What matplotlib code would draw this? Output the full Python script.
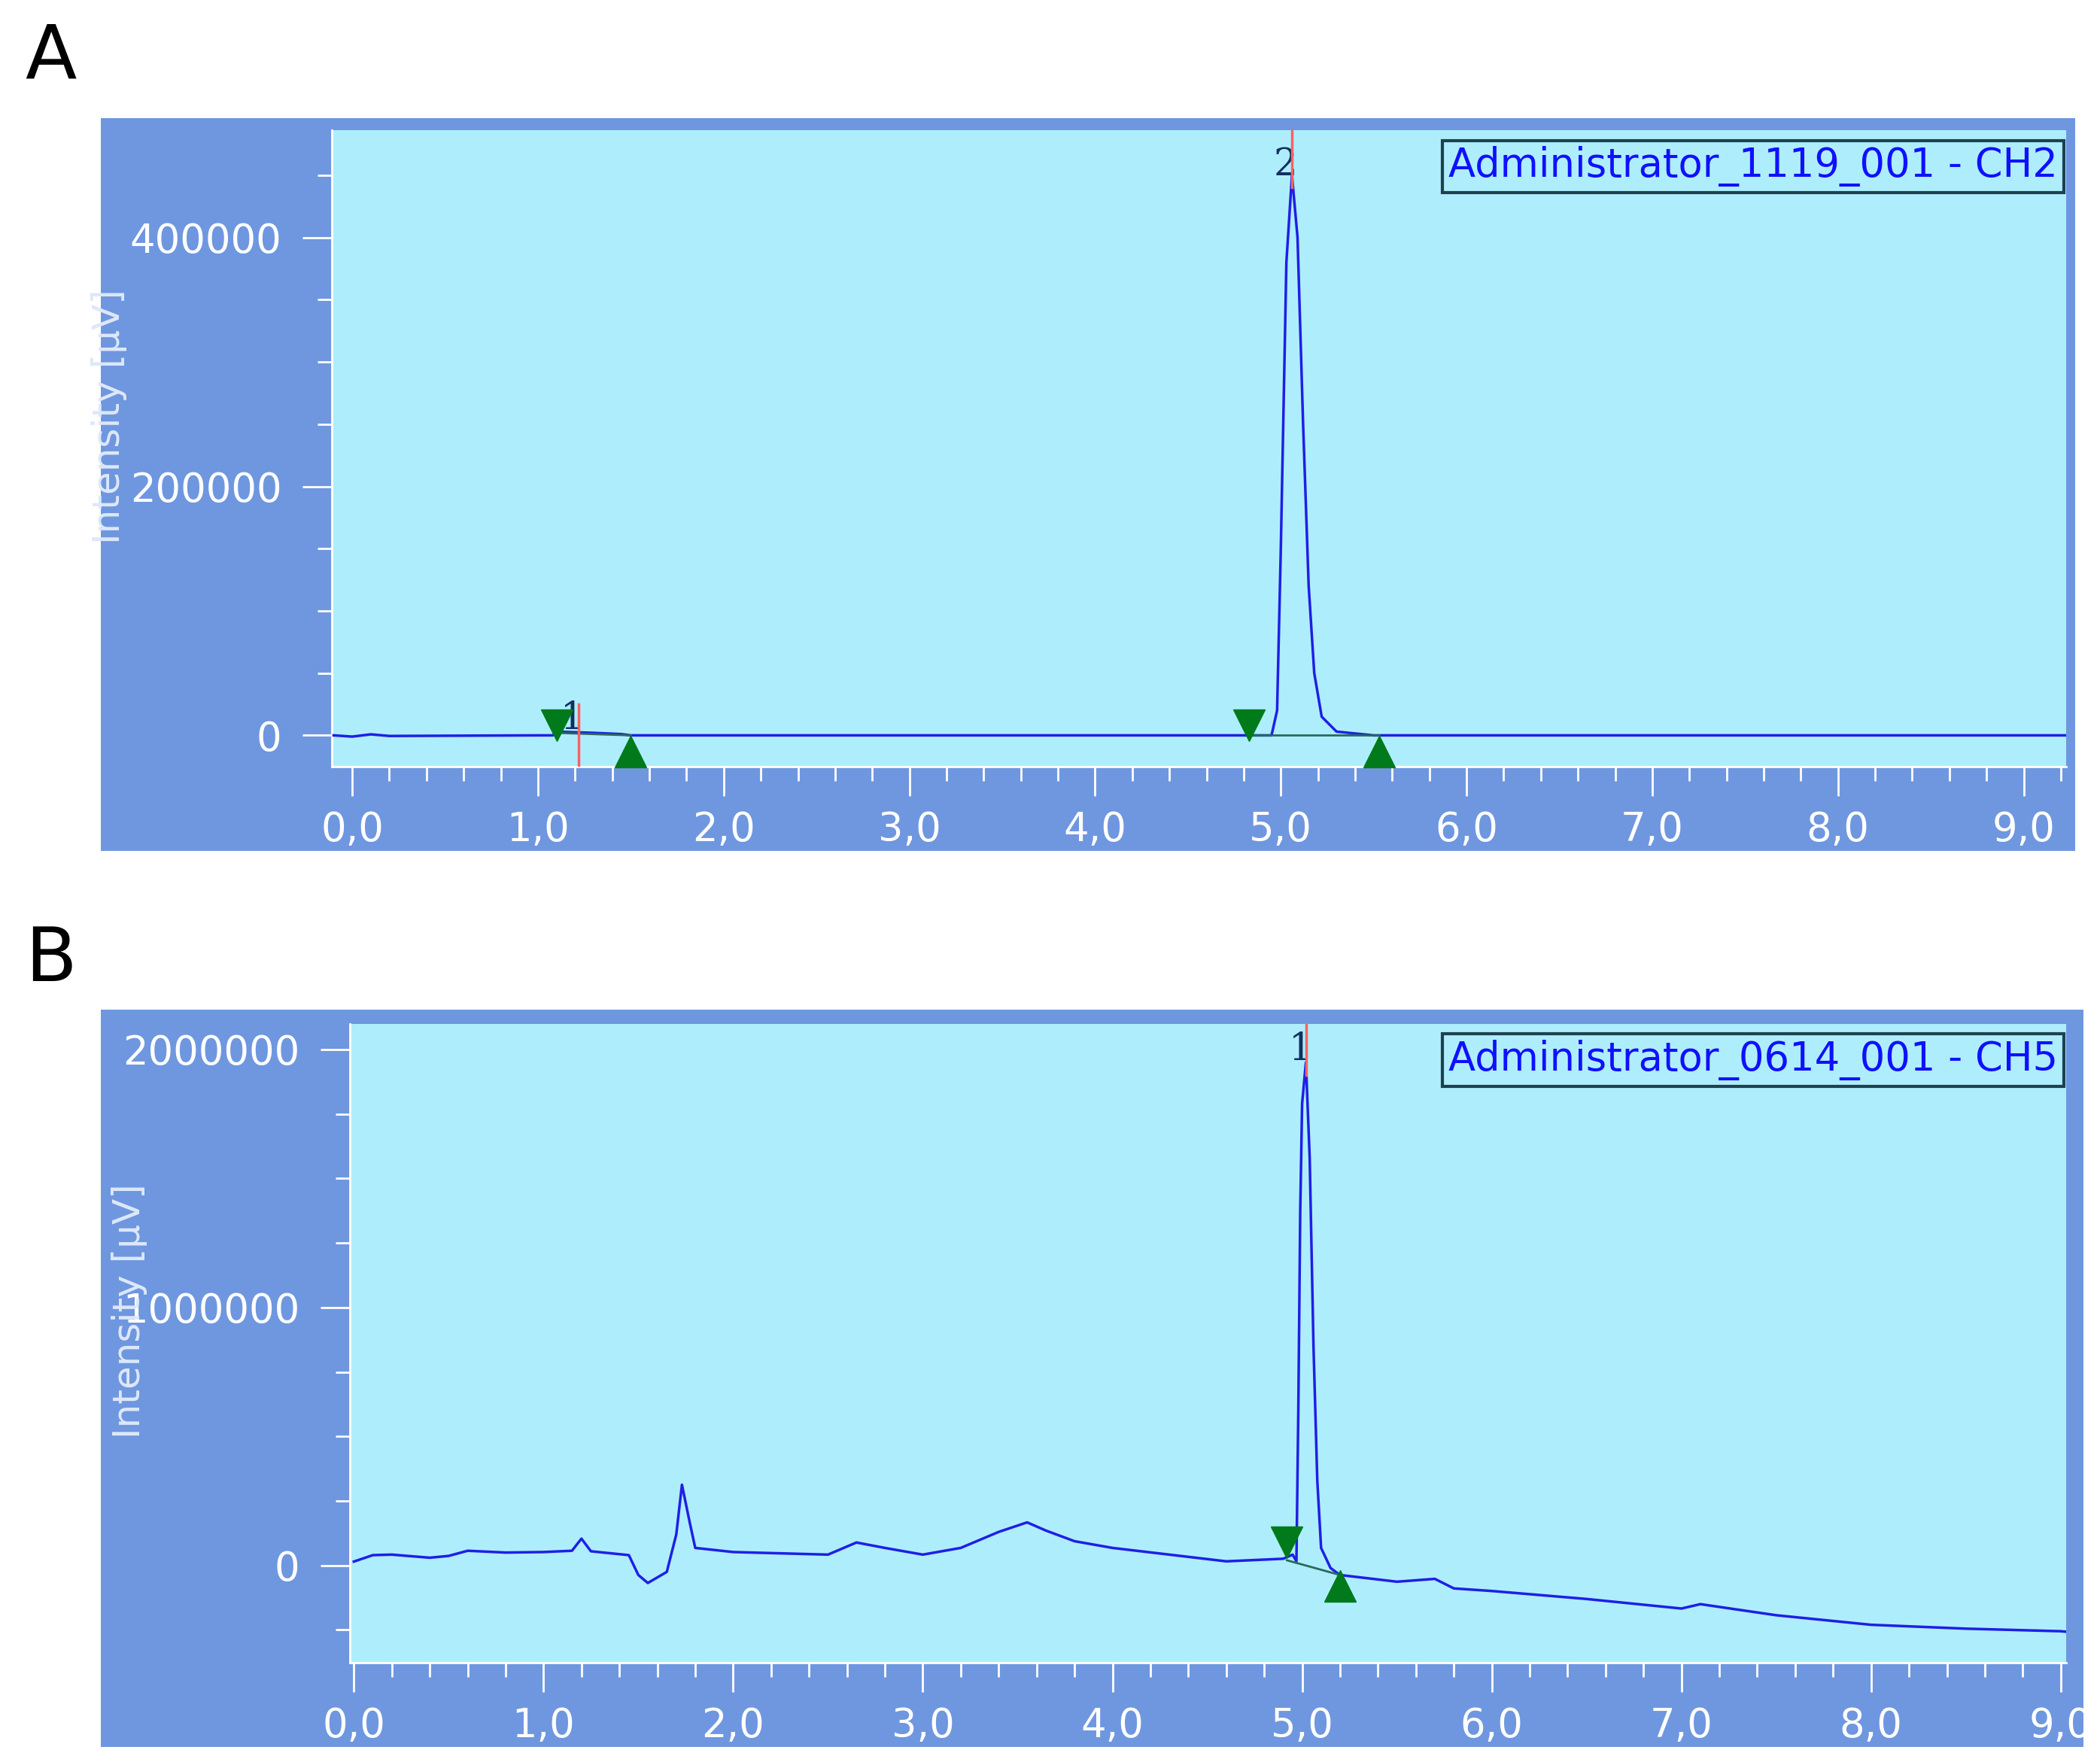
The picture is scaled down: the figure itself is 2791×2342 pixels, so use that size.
import numpy as np
import matplotlib
matplotlib.use("Agg")
import matplotlib.pyplot as plt
from matplotlib.patches import Rectangle
from matplotlib.ticker import MultipleLocator, FuncFormatter

# Panel A chromatogram (time in min, intensity in uV)
a_time = [-0.1, 0.0, 0.1, 0.2, 1.0, 1.08, 1.1, 1.2, 1.3, 1.45, 1.5, 2.0, 3.0, 4.0, 4.8, 4.95,
          4.98, 5.0, 5.03, 5.06, 5.09, 5.12, 5.15, 5.18, 5.22, 5.3, 5.5, 6.0, 7.0, 8.0, 9.0, 9.25]
a_int = [0, -1000, 800, -500, 0, 0, 3000, 2500, 2000, 1000, 0, 0, 0, 0, 0, 0,
         20000, 150000, 380000, 450000, 400000, 250000, 120000, 50000, 15000, 3000, 0, 0, 0, 0, 0, 0]

# Panel B chromatogram
b_time = [0.0, 0.1, 0.2, 0.4, 0.5, 0.6, 0.8, 1.0, 1.15, 1.2, 1.25, 1.45, 1.5, 1.55, 1.65, 1.7,
          1.73, 1.77, 1.8, 2.0, 2.5, 2.65, 2.8, 3.0, 3.2, 3.4, 3.55, 3.65, 3.8, 4.0, 4.3, 4.6,
          4.9, 4.95, 4.97, 4.98, 4.99, 5.0, 5.02, 5.04, 5.06, 5.08, 5.1, 5.15, 5.2, 5.5, 5.7,
          5.8, 6.0, 6.5, 7.0, 7.1, 7.5, 8.0, 8.5, 9.0, 9.03]
b_int = [15000, 40000, 42000, 30000, 37000, 57000, 50000, 52000, 57000, 104000, 55000, 40000,
         -37000, -68000, -25000, 120000, 313000, 170000, 68000, 52000, 42000, 89000, 68000,
         42000, 68000, 130000, 167000, 135000, 94000, 68000, 42000, 16000, 26000, 42000, 16000,
         600000, 1370000, 1790000, 1950000, 1580000, 850000, 330000, 68000, -10000, -37000,
         -63000, -52000, -89000, -99000, -130000, -167000, -150000, -193000, -230000, -245000,
         -255000, -257000]

outer_col = "#6f97e0"
plot_col = "#aeeefc"
line_col = "#1f1fe6"
tri_col = "#007a1a"

fig = plt.figure(figsize=(27.91, 23.42), dpi=100)
fig.patch.set_facecolor("white")


def comma_fmt(v, pos):
    return f"{v:.1f}".replace(".", ",")


def make_panel(outer, rect, t, y, xlim, ylim, ymajor, legend, letter, letter_y, ylab_x):
    fig.patches.append(Rectangle((outer[0], outer[1]), outer[2], outer[3], transform=fig.transFigure,
                                 facecolor=outer_col, edgecolor="none", zorder=0))
    ax = fig.add_axes(rect)
    ax.set_zorder(2)
    ax.set_facecolor(plot_col)
    ax.plot(t, y, color=line_col, lw=2.5, zorder=3)
    ax.set_xlim(*xlim)
    ax.set_ylim(*ylim)
    for s in ["top", "right"]:
        ax.spines[s].set_visible(False)
    for s in ["left", "bottom"]:
        ax.spines[s].set_color("white")
        ax.spines[s].set_linewidth(2)
    ax.xaxis.set_major_locator(MultipleLocator(1.0))
    ax.xaxis.set_minor_locator(MultipleLocator(0.2))
    ax.xaxis.set_major_formatter(FuncFormatter(comma_fmt))
    ax.yaxis.set_major_locator(MultipleLocator(ymajor))
    ax.yaxis.set_minor_locator(MultipleLocator(ymajor / 4))
    ax.yaxis.set_major_formatter(FuncFormatter(lambda v, p: f"{int(v)}" if v >= 0 else ""))
    ax.tick_params(colors="white", labelsize=38, width=2)
    ax.tick_params(axis="x", which="major", length=28, pad=14)
    ax.tick_params(axis="x", which="minor", length=14, width=2, color="white")
    ax.tick_params(axis="y", which="major", length=28, pad=20)
    ax.tick_params(axis="y", which="minor", length=14, width=2, color="white")
    ax.set_ylabel("Intensity [µV]", color="#dde8fa", fontsize=36)
    ax.yaxis.set_label_coords(ylab_x, 0.55)
    ax.text(0.995, 0.975, legend, transform=ax.transAxes, ha="right", va="top", fontsize=38,
            color="#1010ff", zorder=5,
            bbox=dict(boxstyle="square,pad=0.15", facecolor=plot_col, edgecolor="#204050", lw=3))
    fig.text(0.012, letter_y, letter, fontsize=72, color="black", va="center")
    return ax


axA = make_panel((0.048, 0.517, 0.940, 0.416), [0.158, 0.565, 0.826, 0.361],
                 a_time, a_int, (-0.11, 9.23), (-25000, 486000), 200000,
                 "Administrator_1119_001 - CH2", "A", 0.967, -0.118)
axB = make_panel((0.048, 0.0084, 0.944, 0.4186), [0.1667, 0.0565, 0.8173, 0.3625],
                 b_time, b_int, (-0.02, 9.03), (-376000, 2100000), 1000000,
                 "Administrator_0614_001 - CH5", "B", 0.455, -0.118)

# peak annotations
mk = dict(markersize=30, color=tri_col, ls="none", zorder=4, clip_on=False)
axA.plot([1.1, 4.83], [8000, 8000], marker="v", **mk)
axA.plot([1.5, 5.53], [-13000, -13000], marker="^", **mk)
axA.plot([1.1, 1.5], [2000, 0], color="#2a6a5a", lw=2, zorder=3)
axA.plot([4.83, 5.53], [0, 0], color="#2a6a5a", lw=2, zorder=3)
axA.plot([1.22, 1.22], [-25000, 25000], color="#ff6060", lw=2.5, zorder=4)
axA.plot([5.06, 5.06], [440000, 486000], color="#ff6060", lw=2.5, zorder=4)
axA.text(1.12, 5000, "1", fontsize=36, color="#103060", family="DejaVu Serif")
axA.text(4.96, 450000, "2", fontsize=36, color="#103060", family="DejaVu Serif")

axB.plot([4.92], [90000], marker="v", **mk)
axB.plot([5.2], [-80000], marker="^", **mk)
axB.plot([4.92, 5.2], [20000, -37000], color="#2a6a5a", lw=2, zorder=3)
axB.plot([5.02, 5.02], [1900000, 2100000], color="#ff6060", lw=2.5, zorder=4)
axB.text(4.93, 1960000, "1", fontsize=36, color="#103060", family="DejaVu Serif")

fig.savefig("out.png", dpi=100, facecolor="white")
